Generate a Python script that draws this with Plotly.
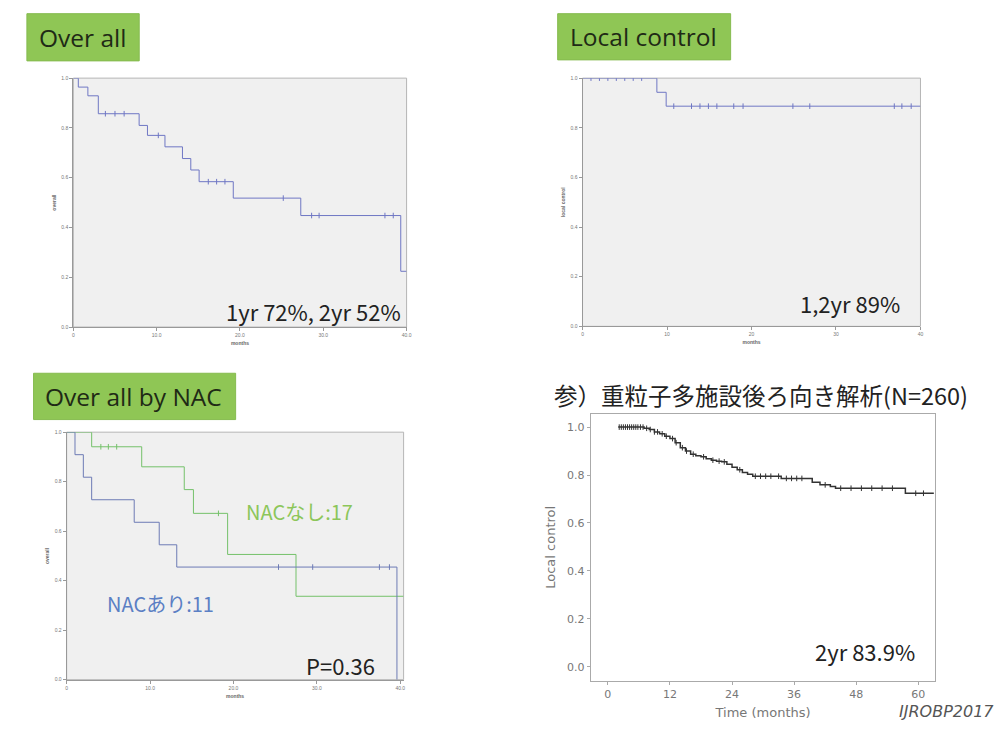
import plotly.graph_objects as go

# The page body has an 8px margin, so the figure is drawn 8px smaller and offset coordinates
OFF = 8
W, H = 1004 - OFF, 729 - OFF

# ---------------- data ----------------
# Panel 1: Over all
os_time = [0, 0.6, 1.75, 3.0, 7.9, 8.9, 11.0, 13.1, 14.1, 15.1, 19.2, 27.3, 39.3, 40]
os_surv = [1.0, 0.964, 0.929, 0.857, 0.81, 0.77, 0.724, 0.677, 0.631, 0.584, 0.518, 0.448, 0.224, 0.224]
os_cens = [3.85, 5.0, 6.1, 10.2, 16.2, 17.2, 18.2, 25.2, 28.6, 29.5, 37.4, 38.4]

# Panel 2: Local control
lc_time = [0, 8.8, 9.9, 40]
lc_surv = [1.0, 0.943, 0.887, 0.887]
lc_cens = [1, 2, 3, 4, 5, 6, 7, 10.8, 12.9, 13.9, 14.9, 15.9, 17.9, 19.0, 24.9, 26.9, 36.9, 37.8, 38.9]

# Panel 3: Over all by NAC
nac_yes_time = [0, 1.0, 2.0, 3.0, 8.1, 11.1, 13.2, 39.6]
nac_yes_surv = [1.0, 0.909, 0.818, 0.727, 0.636, 0.545, 0.455, 0.0]
nac_yes_cens = [25.4, 29.5, 37.5, 38.7]
nac_no_time = [0, 3.0, 9.0, 14.1, 15.2, 19.3, 27.5, 40.4]
nac_no_surv = [1.0, 0.941, 0.86, 0.768, 0.672, 0.506, 0.337, 0.337]
nac_no_cens = [4.1, 5.0, 6.0, 18.2]

# Panel 4: multicenter carbon-ion (N=260)
ref_time = [2, 6, 7, 8, 9, 10, 11, 12, 13, 14, 15, 16, 17, 18, 19, 20, 21, 22, 23, 24,
            25, 26, 27, 28, 32, 33.5, 38.5, 39.5, 41, 43, 44, 57.5, 63]
ref_surv = [1.0, 1.0, 0.995, 0.99, 0.98, 0.972, 0.962, 0.952, 0.935, 0.914, 0.9, 0.887,
            0.88, 0.876, 0.868, 0.862, 0.858, 0.855, 0.845, 0.832, 0.822, 0.811, 0.803,
            0.795, 0.795, 0.786, 0.786, 0.77, 0.759, 0.752, 0.745, 0.724, 0.724]
ref_cens = [2.2, 2.6, 3.0, 3.4, 3.8, 4.2, 4.6, 5.0, 5.4, 5.8, 6.3, 6.8, 7.5, 8.2, 9.0, 9.6,
            10.5, 11.3, 12.5, 13.2, 14.4, 15.2, 16.5, 18.5, 20.3, 21.5, 22.5, 25.5, 28.5,
            29.5, 30.5, 31.5, 33, 34.5, 35.5, 36.5, 37.5, 42, 45, 47, 49, 51, 53, 55, 59.5, 61]

y_ticks = [0.0, 0.2, 0.4, 0.6, 0.8, 1.0]
y_tick_labels = ["0.0", "0.2", "0.4", "0.6", "0.8", "1.0"]
x_ticks_40 = [0, 10, 20, 30, 40]
x_labels_p1 = ["0", "10.0", "20.0", "30.0", "40.0"]
x_labels_p2 = ["0", "10", "20", "30", "40"]
x_ticks_60 = [0, 12, 24, 36, 48, 60]
x_labels_60 = ["0", "12", "24", "36", "48", "60"]


def step_at(t, times, surv):
    v = surv[0]
    for ti, si in zip(times, surv):
        if ti <= t:
            v = si
    return v


def px_x(p):
    return (p - OFF) / W


def px_y(p):
    return 1 - (p - OFF) / H


fig = go.Figure()

panels = [
    ("1", (72.7, 408), (75.7, 326.7)),
    ("2", (585, 925), (75.7, 326.0)),
    ("3", (66, 405), (432.7, 682.3)),
    ("4", (593.3, 940), (414.3, 683.3)),
]


def add_km(times, surv, cens, axis, color, width=1.0, msize=4):
    xa = "x" if axis == "1" else "x" + axis
    ya = "y" if axis == "1" else "y" + axis
    fig.add_trace(go.Scatter(x=times, y=surv, mode="lines", line=dict(color=color, width=width, shape="hv"),
                             xaxis=xa, yaxis=ya, showlegend=False, hoverinfo="skip"))
    fig.add_trace(go.Scatter(x=cens, y=[step_at(c, times, surv) for c in cens], mode="markers",
                             marker=dict(symbol="line-ns", size=msize, line=dict(color=color, width=1)),
                             xaxis=xa, yaxis=ya, showlegend=False, hoverinfo="skip"))


blue = "#6f77c4"
add_km(os_time, os_surv, os_cens, "1", blue)
add_km(lc_time, lc_surv, lc_cens, "2", blue)
add_km(nac_no_time, nac_no_surv, nac_no_cens, "3", "#74c16a")
add_km(nac_yes_time, nac_yes_surv, nac_yes_cens, "3", "#6d7bb5")
add_km(ref_time, ref_surv, ref_cens, "4", "#333333", width=1.5, msize=4)

small_font = dict(family="Liberation Sans", size=5, color="#777")
layout = dict(
    width=W, height=H, margin=dict(l=0, r=0, t=0, b=0),
    paper_bgcolor="white", plot_bgcolor="white", showlegend=False,
)


def axis_pair(name, xd, yd, xrange, yrange, xt, xl, yt, yl, xtitle, ytitle, tickfont, titlefont,
              linecolor, standoff=4):
    xkey = "xaxis" if name == "1" else "xaxis" + name
    ykey = "yaxis" if name == "1" else "yaxis" + name
    yanchor = "y" if name == "1" else "y" + name
    xanchor = "x" if name == "1" else "x" + name
    layout[xkey] = dict(domain=[px_x(xd[0]), px_x(xd[1])], anchor=yanchor, range=xrange,
                        tickvals=xt, ticktext=xl, showgrid=False, zeroline=False,
                        showline=True, linecolor=linecolor, linewidth=1, ticks="outside",
                        ticklen=3, tickcolor=linecolor, tickfont=tickfont,
                        title=dict(text=xtitle, font=titlefont, standoff=standoff))
    layout[ykey] = dict(domain=[px_y(yd[1]), px_y(yd[0])], anchor=xanchor, range=yrange,
                        tickvals=yt, ticktext=yl, showgrid=False, zeroline=False,
                        showline=True, linecolor=linecolor, linewidth=1, ticks="outside",
                        ticklen=3, tickcolor=linecolor, tickfont=tickfont,
                        title=dict(text=ytitle, font=titlefont, standoff=standoff))


tf_small = dict(family="Liberation Sans", size=5, color="#666")
axis_pair("1", panels[0][1], panels[0][2], [0, 40], [0, 1.0], x_ticks_40, x_labels_p1,
          y_ticks, y_tick_labels, "<b>months</b>", "<b>overall</b>", small_font, tf_small, "#999")
axis_pair("2", panels[1][1], panels[1][2], [0, 40], [0, 1.0], x_ticks_40, x_labels_p2,
          y_ticks, y_tick_labels, "<b>months</b>", "<b>local control</b>", small_font, tf_small, "#999")
axis_pair("3", panels[2][1], panels[2][2], [0, 40.4], [0, 1.0], x_ticks_40, x_labels_p1,
          y_ticks, y_tick_labels, "<b>months</b>", "<b>overall</b>", small_font, tf_small, "#999")
axis_pair("4", panels[3][1], panels[3][2], [-3.3, 63.3], [-0.058, 1.055], x_ticks_60, x_labels_60,
          y_ticks, y_tick_labels, "Time (months)", "Local control",
          dict(family="DejaVu Sans", size=11, color="#777"),
          dict(family="DejaVu Sans", size=13, color="#777"), "#aaa", standoff=8)
layout["xaxis4"]["mirror"] = True
layout["yaxis4"]["mirror"] = True

fig.update_layout(**layout)

shapes = []
for name in ["1", "2", "3"]:
    xr = "x domain" if name == "1" else "x%s domain" % name
    yr = "y domain" if name == "1" else "y%s domain" % name
    shapes.append(dict(type="rect", xref=xr, yref=yr, x0=0, x1=1, y0=0, y1=1,
                       fillcolor="#f0f0f0", line=dict(color="#b5b5b5", width=1), layer="below"))

boxes = [
    ((26, 139), (10.7, 58.3), "Over all"),
    ((560, 734), (10.7, 57.3), "Local control"),
    ((32.7, 236), (373.3, 420), "Over all by NAC"),
]
annotations = []
for (bx, by, label) in boxes:
    shapes.append(dict(type="rect", xref="paper", yref="paper", x0=px_x(bx[0]), x1=px_x(bx[1]),
                       y0=px_y(by[1]), y1=px_y(by[0]), fillcolor="#8fc655",
                       line=dict(color="#86bb4f", width=1)))
    annotations.append(dict(xref="paper", yref="paper", x=px_x(bx[0] + 10), y=px_y((by[0] + by[1]) / 2),
                            xanchor="left", yanchor="middle", showarrow=False, text=label,
                            font=dict(family="Open Sans", size=24.5, color="#1f2a16")))

texts = [
    (404, 311, "right", "1yr 72%, 2yr 52%", 22, "#222"),
    (906, 302, "right", "1,2yr 89%", 22, "#222"),
    (244, 513, "left", "NACなし:17", 20, "#8cc65a"),
    (105, 605, "left", "NACあり:11", 20, "#5b7fc4"),
    (305, 667, "left", "P=0.36", 22, "#222"),
    (922, 653, "right", "2yr 83.9%", 22, "#222"),
]
for (x, y, anc, t, sz, col) in texts:
    annotations.append(dict(xref="paper", yref="paper", x=px_x(x), y=px_y(y), xanchor=anc,
                            yanchor="middle", showarrow=False, text=t,
                            font=dict(family="Noto Sans CJK JP", size=sz, color=col)))

annotations.append(dict(xref="paper", yref="paper", x=px_x(765), y=px_y(395), xanchor="center",
                        yanchor="middle", showarrow=False, text="参）重粒子多施設後ろ向き解析(N=260)",
                        font=dict(family="Noto Sans CJK JP", size=23.5, color="#222")))
annotations.append(dict(xref="paper", yref="paper", x=px_x(1001), y=px_y(714), xanchor="right",
                        yanchor="middle", showarrow=False, text="<i>IJROBP2017</i>",
                        font=dict(family="DejaVu Sans", size=16, color="#555")))

fig.update_layout(shapes=shapes, annotations=annotations)
fig.write_html("out.html")
